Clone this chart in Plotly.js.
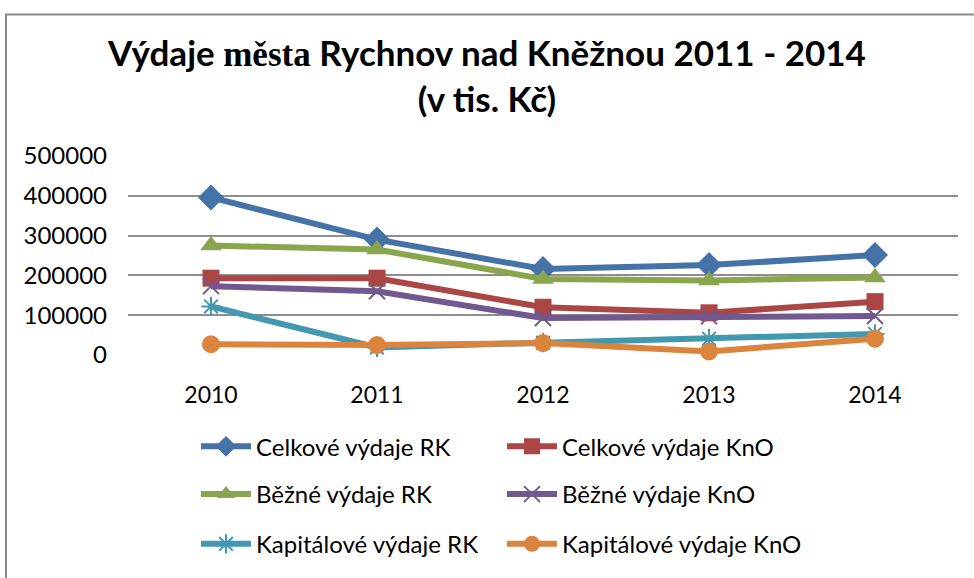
<!DOCTYPE html>
<html>
<head>
<meta charset="utf-8">
<script src="https://cdn.plot.ly/plotly-3.0.1.min.js"></script>
<style>html,body{margin:0;padding:0;background:#fff;}#chart{width:974px;height:578px;}</style>
</head>
<body>
<div id="chart"></div>
<script>
const years = ['2010', '2011', '2012', '2013', '2014'];
const celkoveRK = [396000, 290000, 216000, 226000, 251000];
const celkoveKnO = [193000, 193000, 120000, 106000, 134000];
const bezneRK = [275000, 265000, 191000, 187000, 195000];
const bezneKnO = [173000, 160000, 93000, 97000, 98000];
const kapitaloveRK = [122000, 19000, 31000, 41000, 53000];
const kapitaloveKnO = [27000, 25000, 30000, 9000, 41000];
const seriesNames = ['Celkové výdaje RK', 'Celkové výdaje KnO', 'Běžné výdaje RK', 'Běžné výdaje KnO', 'Kapitálové výdaje RK', 'Kapitálové výdaje KnO'];
const yTicks = [0, 100000, 200000, 300000, 400000, 500000];

const FONT = 'Lato, "Open Sans", sans-serif';
const mk = (y, name, color, symbol, size, legend, open) => ({
  x: years, y: y, name: name, type: 'scatter', mode: 'lines+markers',
  line: {color: color, width: 6},
  marker: open ? {symbol: symbol, size: size, color: color, line: {color: color, width: 2}}
               : {symbol: symbol, size: size, color: color, line: {width: 0}},
  legend: legend, cliponaxis: false
});
const data = [
  mk(celkoveRK, seriesNames[0], '#4572A7', 'diamond', 20, 'legend', false),
  mk(celkoveKnO, seriesNames[1], '#AA4643', 'square', 17, 'legend', false),
  mk(bezneRK, seriesNames[2], '#89A54E', 'triangle-up', 19, 'legend2', false),
  mk(bezneKnO, seriesNames[3], '#71588F', 'x-thin-open', 16, 'legend2', true),
  mk(kapitaloveRK, seriesNames[4], '#4198AF', 'asterisk-open', 16, 'legend3', true),
  mk(kapitaloveKnO, seriesNames[5], '#DB843D', 'circle', 18, 'legend3', false)
];
const TOP = 156, BOT = 360;
const P = (px) => (px - 128) / 830;
const Q = (py) => (BOT - py) / (BOT - TOP);
const legBase = {
  orientation: 'h', xanchor: 'left', yanchor: 'middle', x: P(196),
  font: {family: FONT, size: 24, color: '#000'}, entrywidth: 241, itemwidth: 50,
  bgcolor: 'rgba(0,0,0,0)'
};
const layout = {
  width: 974, height: 578,
  margin: {l: 128, r: 16, t: TOP, b: 578 - BOT},
  paper_bgcolor: '#fff', plot_bgcolor: '#fff',
  font: {family: FONT, size: 22, color: '#000'},
  title: {
    text: '<b>Výdaje <span style="font-family:\'Liberation Serif\'">města</span> Rychnov nad Kněžnou 2011 - 2014<br>(v tis. Kč)</b>',
    font: {family: FONT, size: 35, color: '#000'},
    x: 0.5, xanchor: 'center', y: 1 - 66 / 578, yanchor: 'top'
  },
  xaxis: {
    type: 'category', range: [-0.5, 4.5], showgrid: false, zeroline: false, showline: false, ticks: '',
    tickfont: {family: FONT, size: 23, color: '#000'}, ticklabelstandoff: 24
  },
  yaxis: {
    range: [0, 500000], tickvals: yTicks, ticktext: yTicks.map(String),
    showgrid: true, gridcolor: '#8e8e8e', gridwidth: 2, zeroline: false, showline: false, ticks: '',
    tickfont: {family: FONT, size: 24, color: '#000'}, ticklabelstandoff: 20
  },
  showlegend: true,
  legend: Object.assign({}, legBase, {y: Q(454)}),
  legend2: Object.assign({}, legBase, {y: Q(503)}),
  legend3: Object.assign({}, legBase, {y: Q(554)}),
  shapes: [{
    type: 'rect', xref: 'paper', yref: 'paper',
    x0: P(6), x1: P(990), y0: Q(600), y1: Q(11),
    line: {color: '#8a8a8a', width: 2}, fillcolor: 'rgba(0,0,0,0)', layer: 'below'
  }]
};
Plotly.newPlot('chart', data, layout, {displayModeBar: false, staticPlot: true});
</script>
</body>
</html>
